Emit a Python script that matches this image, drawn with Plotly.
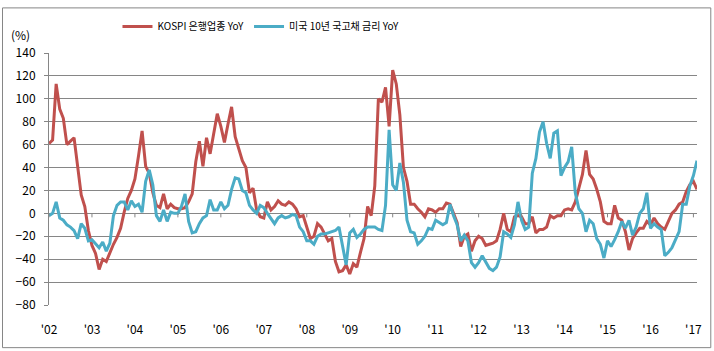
import plotly.graph_objects as go

# Monthly YoY (%) values, Jan 2002 - Feb 2017
kospi_bank = [
    61, 64, 113, 91, 83, 60, 63, 66, 41, 16, 6, -15,          # 2002
    -28, -35, -49, -40, -42, -34, -27, -21, -13, 1, 13, 20,   # 2003
    30, 50, 72, 41, 35, 18, 7, 5, 17, 4, 8, 5,                # 2004
    4, 4, 5, 10, 17, 45, 63, 41, 66, 52, 70, 87,              # 2005
    76, 62, 78, 93, 67, 56, 46, 40, 18, 22, 3, -3,            # 2006
    -4, 10, 3, 6, 11, 8, 7, 10, 8, 4, -3, -2,                 # 2007
    -12, -22, -20, -9, -12, -18, -24, -22, -42, -51, -50, -45,  # 2008
    -53, -44, -47, -34, -22, 6, -2, 24, 100, 97, 110, 76,     # 2009
    125, 113, 86, 40, 28, 8, 8, 4, 1, -3, 4, 3,               # 2010
    1, 4, 4, 9, 8, 0, -8, -29, -20, -18, -33, -24,            # 2011
    -20, -22, -28, -27, -26, -24, -14, 0, -14, -16, -3, -2,   # 2012
    -3, -9, -9, -3, -17, -14, -14, -12, -2, -4, -2, -2,       # 2013
    3, 4, 3, 10, 21, 34, 55, 34, 30, 21, 10, -7,              # 2014
    -9, -9, 7, -4, -6, -16, -32, -22, -17, -13, -13, -7,      # 2015
    -10, -4, -9, -12, -14, -7, 0, 3, 8, 10, 19, 25,           # 2016
    28, 21,                                                   # 2017
]

us_10y = [
    -2, 0, 10, -4, -6, -10, -12, -15, -22, -9, -13, -24,      # 2002
    -23, -27, -30, -25, -33, -26, -2, 7, 10, 10, 3, 11,       # 2003
    6, 8, 1, 28, 38, 25, -2, -7, 3, -7, 1, 0,                 # 2004
    0, 6, 17, -7, -17, -16, -9, -4, -2, 12, 3, 3,             # 2005
    10, 4, 7, 21, 31, 30, 20, 18, 7, 3, 0, 7,                 # 2006
    5, 0, -4, -9, -4, -2, -4, -3, -1, -2, -12, -16,           # 2007
    -24, -24, -27, -20, -18, -18, -17, -16, -15, -12, -30, -45,  # 2008
    -17, -14, -21, -18, -14, -12, -12, -12, -14, -15, 7, 73,  # 2009
    25, 20, 44, 27, -6, -16, -17, -27, -24, -20, -13, -14,   # 2010
    -6, -8, -10, -8, 8, -2, -10, -24, -19, -24, -43, -47,     # 2011
    -43, -37, -43, -48, -50, -47, -38, -16, -18, -21, -10, 10,  # 2012
    -6, -14, -12, 35, 48, 71, 80, 61, 48, 70, 72, 33,         # 2013
    40, 45, 58, 18, 4, 0, -16, -6, -9, -22, -27, -39,         # 2014
    -24, -29, -23, -16, -7, -13, -6, -19, -12, 0, 4, 18,      # 2015
    -13, -9, -12, -14, -37, -34, -30, -23, -16, 8, 8, 24,     # 2016
    33, 46,                                                   # 2017
]

year_labels = ["'02", "'03", "'04", "'05", "'06", "'07", "'08", "'09",
               "'10", "'11", "'12", "'13", "'14", "'15", "'16", "'17"]

series_names = ["KOSPI 은행업종 YoY", "미국 10년 국고채 금리 YoY"]
series_colors = ["#C0504D", "#4BACC6"]

months = list(range(len(kospi_bank)))
tick_pos = [12 * k for k in range(len(year_labels))]

GRID = "#868686"
FONT = "Noto Sans CJK KR"

fig = go.Figure()
for name, vals, col in zip(series_names, [kospi_bank, us_10y], series_colors):
    fig.add_trace(go.Scatter(x=months, y=vals, mode="lines", name=name,
                             line=dict(color=col, width=3)))

# Small tick marks on the zero (category) axis line
shapes = []
for t in tick_pos:
    shapes.append(dict(type="line", xref="x", yref="y", ysizemode="pixel",
                       yanchor=0, x0=t, x1=t, y0=0, y1=-4,
                       line=dict(color=GRID, width=1)))
# Chart-area border
shapes.append(dict(type="rect", xref="paper", yref="paper",
                   x0=(2 - 48.5) / 648.2, x1=(710.5 - 48.5) / 648.2,
                   y0=(305 - 348.5) / 257, y1=(305 - 2) / 257,
                   line=dict(color=GRID, width=1), layer="below"))

fig.update_layout(
    width=714, height=351,
    margin=dict(l=48.5, r=17.3, t=48, b=46),
    paper_bgcolor="white", plot_bgcolor="white",
    font=dict(family=FONT, size=12, color="#000000"),
    showlegend=True,
    legend=dict(orientation="h", x=(117 - 48.5) / 648.2, y=(305 - 21) / 257,
                xanchor="left", yanchor="middle",
                font=dict(family=FONT, size=10),
                itemwidth=30, tracegroupgap=0,
                bgcolor="rgba(0,0,0,0)"),
    shapes=shapes,
    annotations=[dict(text="(%)", xref="paper", yref="paper",
                      x=(20 - 48.5) / 648.2, y=(305 - 29) / 257,
                      xanchor="center", yanchor="middle", showarrow=False,
                      font=dict(family=FONT, size=12))],
)

fig.update_xaxes(range=[0, len(kospi_bank) - 1], tickmode="array",
                 tickvals=tick_pos, ticktext=year_labels,
                 showgrid=False, zeroline=False, showline=False,
                 ticks="outside", ticklen=0, ticklabelstandoff=14,
                 tickfont=dict(family=FONT, size=12))
fig.update_yaxes(range=[-80, 140], dtick=20, tick0=0,
                 showgrid=True, gridcolor=GRID, gridwidth=1,
                 zeroline=True, zerolinecolor=GRID, zerolinewidth=1,
                 showline=True, linecolor=GRID, linewidth=1,
                 ticks="outside", ticklen=4, tickcolor=GRID,
                 ticklabelstandoff=6,
                 tickfont=dict(family=FONT, size=12))

fig.write_html("out.html")
